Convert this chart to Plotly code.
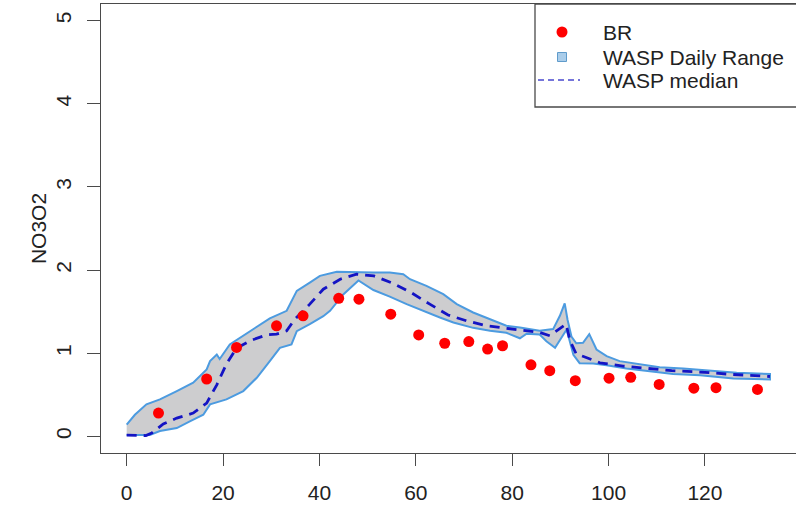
import plotly.graph_objects as go

# Observed BR concentrations
br_day = [6.6, 16.6, 22.8, 31.1, 36.6, 44.0, 48.2, 54.8, 60.6, 66.0, 71.0,
          74.9, 78.0, 83.9, 87.8, 93.1, 100.1, 104.6, 110.5, 117.7, 122.3, 130.9]
br_val = [0.28, 0.69, 1.07, 1.33, 1.45, 1.66, 1.65, 1.47, 1.22, 1.12, 1.14,
          1.05, 1.09, 0.86, 0.79, 0.67, 0.70, 0.71, 0.625, 0.58, 0.585, 0.565]

# WASP daily range: upper envelope
upper_day = [0, 1.7, 4.1, 6.9, 10.4, 13.8, 16.6, 17.3, 18.7, 19.3, 21.4, 25.6,
             29.7, 33.2, 35.3, 38.0, 40.1, 43.6, 48.4, 51.2, 54.6, 57.4, 58.8,
             62.2, 65.7, 68.5, 71.9, 75.4, 78.8, 81.6, 85.7, 88.5, 89.9, 90.9,
             91.5, 92.3, 93.3, 94.7, 96.0, 97.5, 99.6, 102.3, 106.5, 110.6,
             115.5, 121.0, 126.6, 133.5]
upper_val = [0.14, 0.26, 0.385, 0.445, 0.545, 0.645, 0.805, 0.905, 0.985, 0.93,
             1.105, 1.265, 1.42, 1.51, 1.75, 1.85, 1.93, 1.98, 1.97, 1.97, 1.97,
             1.95, 1.89, 1.81, 1.71, 1.59, 1.49, 1.41, 1.33, 1.31, 1.27, 1.29,
             1.45, 1.60, 1.40, 1.20, 1.12, 1.125, 1.23, 1.045, 0.965, 0.905,
             0.87, 0.83, 0.815, 0.79, 0.765, 0.75]

# WASP daily range: lower envelope
lower_day = [0, 4.8, 6.9, 10.4, 13.1, 15.9, 17.3, 20.7, 24.2, 27.0, 29.7, 31.8,
             34.2, 35.3, 38.0, 40.8, 42.2, 45.0, 48.1, 51.2, 54.6, 58.1, 61.5,
             65.0, 67.8, 71.9, 75.4, 78.8, 81.6, 83.0, 85.7, 87.1, 88.9, 89.9,
             91.3, 92.7, 94.0, 96.8, 99.6, 103.7, 107.9, 113.4, 119.0, 125.9,
             133.5]
lower_val = [0.016, 0.016, 0.064, 0.10, 0.18, 0.26, 0.385, 0.445, 0.545, 0.705,
             0.905, 1.065, 1.105, 1.265, 1.35, 1.445, 1.51, 1.71, 1.875, 1.76,
             1.68, 1.59, 1.51, 1.43, 1.37, 1.305, 1.27, 1.245, 1.18, 1.235,
             1.225, 1.145, 1.065, 1.15, 1.285, 0.98, 0.88, 0.875, 0.855, 0.815,
             0.79, 0.75, 0.735, 0.695, 0.685]

# WASP median
median_day = [0, 2.1, 4.0, 5.2, 7.6, 10.4, 13.8, 16.6, 18.7, 20.7, 22.8, 25.6,
              29.0, 31.1, 33.2, 34.9, 38.0, 40.8, 44.3, 47.7, 51.3, 55.3, 59.0,
              62.9, 66.7, 70.5, 74.7, 78.8, 83.0, 85.7, 87.8, 89.9, 91.2, 92.0,
              93.3, 94.8, 98.2, 103.0, 108.2, 113.1, 120.0, 125.6, 132.4, 133.5]
median_val = [0.016, 0.016, 0.01, 0.04, 0.15, 0.22, 0.28, 0.40, 0.62, 0.87,
              1.06, 1.15, 1.22, 1.23, 1.27, 1.41, 1.59, 1.77, 1.89, 1.95, 1.93,
              1.84, 1.73, 1.59, 1.46, 1.39, 1.33, 1.30, 1.27, 1.25, 1.21, 1.29,
              1.35, 1.15, 0.99, 0.96, 0.885, 0.845, 0.82, 0.79, 0.77, 0.745,
              0.725, 0.72]

x_ticks = [0, 20, 40, 60, 80, 100, 120]
y_ticks = [0, 1, 2, 3, 4, 5]
legend_labels = ["BR", "WASP Daily Range", "WASP median"]

FONT = "Liberation Sans, Arial, sans-serif"
FS = 21
AXIS = "#4a4a4a"

fig = go.Figure()

# Daily range band as a closed polygon
fig.add_trace(go.Scatter(
    x=upper_day + lower_day[::-1],
    y=upper_val + lower_val[::-1],
    mode="lines", fill="toself",
    fillcolor="#cdcdcf",
    line=dict(color="#4c9be0", width=2),
    hoverinfo="skip", showlegend=False,
))

fig.add_trace(go.Scatter(
    x=median_day, y=median_val, mode="lines",
    line=dict(color="#1414c4", width=2.8, dash="10px,7px"),
    showlegend=False,
))

fig.add_trace(go.Scatter(
    x=br_day, y=br_val, mode="markers",
    marker=dict(color="#ff0000", size=11, line=dict(width=0)),
    showlegend=False,
))

# Plot area in pixels
L, R, T, B = 101, 0, 4, 53
W, H = 796, 506
pw, ph = W - L - R, H - T - B


def px_x(p):
    return (p - L) / pw


def px_y(p):
    return (H - B - p) / ph


shapes = [
    # legend box (right side runs past the figure edge)
    dict(type="rect", xref="paper", yref="paper",
         x0=px_x(535), x1=1.05, y0=px_y(107), y1=px_y(4),
         line=dict(color=AXIS, width=1.3), fillcolor="white", layer="above"),
    dict(type="circle", xref="paper", yref="paper",
         xsizemode="pixel", ysizemode="pixel",
         xanchor=px_x(562), yanchor=px_y(32),
         x0=-5.5, x1=5.5, y0=-5.5, y1=5.5,
         fillcolor="#ff0000", line=dict(width=0), layer="above"),
    dict(type="rect", xref="paper", yref="paper",
         xsizemode="pixel", ysizemode="pixel",
         xanchor=px_x(562), yanchor=px_y(57),
         x0=-4.5, x1=4.5, y0=-4.5, y1=4.5,
         fillcolor="#aacdea", line=dict(color="#5f9bcb", width=1), layer="above"),
    dict(type="line", xref="paper", yref="paper",
         x0=px_x(538), x1=px_x(580), y0=px_y(80), y1=px_y(80),
         line=dict(color="#7575da", width=2, dash="6px,4px"), layer="above"),
]

annotations = [
    dict(text=t, xref="paper", yref="paper", x=px_x(601), y=px_y(yy),
         xanchor="left", yanchor="middle", showarrow=False,
         font=dict(family=FONT, size=FS, color="#222222"))
    for t, yy in zip(legend_labels, [32, 57, 80])
]

fig.update_layout(
    width=W, height=H,
    margin=dict(l=L, r=R, t=T, b=B, pad=0),
    paper_bgcolor="white", plot_bgcolor="white",
    font=dict(family=FONT, size=FS, color="#222222"),
    shapes=shapes, annotations=annotations,
    showlegend=False,
    xaxis=dict(
        range=[-5.33, 138.9], tickmode="array", tickvals=x_ticks,
        ticktext=[str(v) for v in x_ticks],
        showgrid=False, zeroline=False,
        showline=True, mirror=True, linecolor=AXIS, linewidth=1.3,
        ticks="outside", ticklen=12, tickwidth=1.3, tickcolor=AXIS,
        ticklabelstandoff=9,
    ),
    yaxis=dict(
        range=[-0.2, 5.2], tickmode="array", tickvals=y_ticks,
        ticktext=[str(v) for v in y_ticks],
        showgrid=False, zeroline=False,
        showline=True, mirror=False, linecolor=AXIS, linewidth=1.3,
        ticks="outside", ticklen=13, tickwidth=1.3, tickcolor=AXIS,
        tickangle=-90, ticklabelstandoff=7,
        title=dict(text="NO3O2", standoff=0,
                   font=dict(family=FONT, size=FS, color="#222222")),
    ),
)

fig.write_html("out.html")
